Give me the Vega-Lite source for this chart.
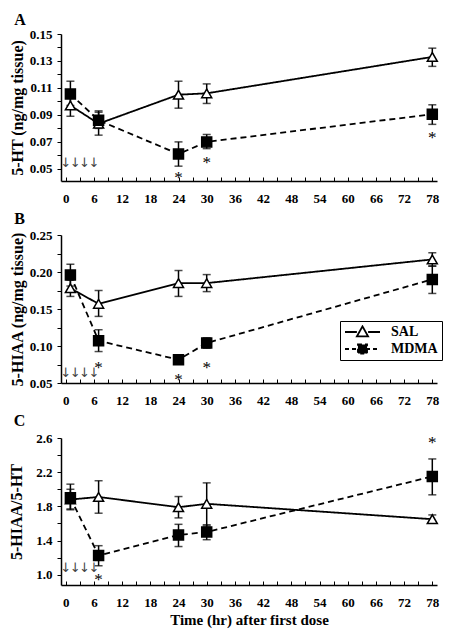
{
  "$schema": "https://vega.github.io/schema/vega-lite/v6.json",
  "padding": {"left": 8, "top": 12, "right": 5, "bottom": 5},
  "config": {
    "font": "Liberation Serif",
    "view": {"stroke": null},
    "axis": {
      "grid": false,
      "domainColor": "black",
      "domainWidth": 1.5,
      "tickColor": "black",
      "tickWidth": 1,
      "tickSize": 4,
      "tickCount": 200,
      "labelOverlap": false,
      "labelFont": "Liberation Serif",
      "labelFontWeight": "bold",
      "labelFontSize": 13,
      "labelColor": "black",
      "titleFont": "Liberation Serif",
      "titleFontWeight": "bold",
      "titleFontSize": 16,
      "titleColor": "black"
    },
    "title": {"font": "Liberation Serif", "fontWeight": "bold", "fontSize": 16, "color": "black", "anchor": "start", "frame": "bounds"}
  },
  "datasets": {
    "pts": [
      {"panel": "A", "group": "SAL", "hr": 1, "mean": 0.097, "lo": 0.089, "hi": 0.105},
      {"panel": "A", "group": "SAL", "hr": 7, "mean": 0.0835, "lo": 0.075, "hi": 0.093},
      {"panel": "A", "group": "SAL", "hr": 24, "mean": 0.105, "lo": 0.095, "hi": 0.115},
      {"panel": "A", "group": "SAL", "hr": 30, "mean": 0.106, "lo": 0.0985, "hi": 0.113},
      {"panel": "A", "group": "SAL", "hr": 78, "mean": 0.133, "lo": 0.126, "hi": 0.1395},
      {"panel": "A", "group": "MDMA", "hr": 1, "mean": 0.1055, "lo": 0.097, "hi": 0.115},
      {"panel": "A", "group": "MDMA", "hr": 7, "mean": 0.086, "lo": 0.08, "hi": 0.092},
      {"panel": "A", "group": "MDMA", "hr": 24, "mean": 0.061, "lo": 0.052, "hi": 0.07},
      {"panel": "A", "group": "MDMA", "hr": 30, "mean": 0.07, "lo": 0.065, "hi": 0.0755},
      {"panel": "A", "group": "MDMA", "hr": 78, "mean": 0.0905, "lo": 0.083, "hi": 0.0975},
      {"panel": "B", "group": "SAL", "hr": 1, "mean": 0.178, "lo": 0.167, "hi": 0.189},
      {"panel": "B", "group": "SAL", "hr": 7, "mean": 0.157, "lo": 0.14, "hi": 0.175},
      {"panel": "B", "group": "SAL", "hr": 24, "mean": 0.185, "lo": 0.167, "hi": 0.202},
      {"panel": "B", "group": "SAL", "hr": 30, "mean": 0.185, "lo": 0.1735, "hi": 0.1965},
      {"panel": "B", "group": "SAL", "hr": 78, "mean": 0.217, "lo": 0.208, "hi": 0.226},
      {"panel": "B", "group": "MDMA", "hr": 1, "mean": 0.196, "lo": 0.181, "hi": 0.2105},
      {"panel": "B", "group": "MDMA", "hr": 7, "mean": 0.107, "lo": 0.0925, "hi": 0.122},
      {"panel": "B", "group": "MDMA", "hr": 24, "mean": 0.0815, "lo": 0.076, "hi": 0.087},
      {"panel": "B", "group": "MDMA", "hr": 30, "mean": 0.104, "lo": 0.097, "hi": 0.111},
      {"panel": "B", "group": "MDMA", "hr": 78, "mean": 0.19, "lo": 0.171, "hi": 0.208},
      {"panel": "C", "group": "SAL", "hr": 1, "mean": 1.88, "lo": 1.76, "hi": 2.0},
      {"panel": "C", "group": "SAL", "hr": 7, "mean": 1.91, "lo": 1.72, "hi": 2.1},
      {"panel": "C", "group": "SAL", "hr": 24, "mean": 1.79, "lo": 1.665, "hi": 1.915},
      {"panel": "C", "group": "SAL", "hr": 30, "mean": 1.83, "lo": 1.57, "hi": 2.075},
      {"panel": "C", "group": "SAL", "hr": 78, "mean": 1.65, "lo": 1.605, "hi": 1.7},
      {"panel": "C", "group": "MDMA", "hr": 1, "mean": 1.9, "lo": 1.77, "hi": 2.06},
      {"panel": "C", "group": "MDMA", "hr": 7, "mean": 1.225, "lo": 1.105, "hi": 1.34},
      {"panel": "C", "group": "MDMA", "hr": 24, "mean": 1.465, "lo": 1.33, "hi": 1.59},
      {"panel": "C", "group": "MDMA", "hr": 30, "mean": 1.5, "lo": 1.41, "hi": 1.585},
      {"panel": "C", "group": "MDMA", "hr": 78, "mean": 2.15, "lo": 1.935, "hi": 2.355}
    ],
    "stars": [
      {"panel": "A", "hr": 24, "y": 0.0465},
      {"panel": "A", "hr": 30, "y": 0.0575},
      {"panel": "A", "hr": 78, "y": 0.0757},
      {"panel": "B", "hr": 7, "y": 0.0761},
      {"panel": "B", "hr": 24, "y": 0.0592},
      {"panel": "B", "hr": 30, "y": 0.0761},
      {"panel": "C", "hr": 7, "y": 0.98},
      {"panel": "C", "hr": 78, "y": 2.588}
    ],
    "arrows": [
      {"panel": "A", "hr": 0, "y": 0.0545},
      {"panel": "A", "hr": 2, "y": 0.0545},
      {"panel": "A", "hr": 4, "y": 0.0545},
      {"panel": "A", "hr": 6, "y": 0.0545},
      {"panel": "B", "hr": 0, "y": 0.0635},
      {"panel": "B", "hr": 2, "y": 0.0635},
      {"panel": "B", "hr": 4, "y": 0.0635},
      {"panel": "B", "hr": 6, "y": 0.0635},
      {"panel": "C", "hr": 0, "y": 1.078},
      {"panel": "C", "hr": 2, "y": 1.078},
      {"panel": "C", "hr": 4, "y": 1.078},
      {"panel": "C", "hr": 6, "y": 1.078}
    ],
    "legendrows": [
      {"group": "SAL", "hr": 40, "mean": 0.15},
      {"group": "MDMA", "hr": 40, "mean": 0.15}
    ]
  },
  "spacing": 6,
  "resolve": {"scale": {"y": "independent"}, "legend": {"shape": "independent", "fill": "independent", "strokeDash": "independent", "stroke": "independent"}},
  "vconcat": [
    {
      "width": 376, "height": 147,
      "title": {"text": "A", "dx": 5, "offset": 0},
      "layer": [
        {
          "data": {"name": "pts"},
          "transform": [{"filter": "datum.panel == 'A'"}],
          "mark": {"type": "line", "color": "black", "strokeWidth": 1.8},
          "encoding": {
            "x": {"field": "hr", "type": "quantitative", "scale": {"domain": [-1, 79], "nice": false, "zero": false},
                  "axis": {"values": [0,3,6,9,12,15,18,21,24,27,30,33,36,39,42,45,48,51,54,57,60,63,66,69,72,75,78], "tickCount": 200, "labelExpr": "datum.value % 6 == 0 ? format(datum.value, 'd') : ''", "labelOverlap": false, "labelFlush": false, "title": null, "tickSize": -4, "labelPadding": 15}},
            "y": {"field": "mean", "type": "quantitative", "title": "5-HT (ng/mg tissue)", "scale": {"domain": [0.041, 0.15], "nice": false, "zero": false},
                  "axis": {"values": [0.05,0.06,0.07,0.08,0.09,0.1,0.11,0.12,0.13,0.14,0.15], "tickCount": 200, "labelExpr": "round(datum.value*100) % 2 == 1 ? format(datum.value, '.2f') : ''", "labelOverlap": false, "labelFlush": false, "labelPadding": 5, "titlePadding": 4}},
            "detail": {"field": "group"},
            "strokeDash": {"field": "group", "type": "nominal", "scale": {"domain": ["SAL", "MDMA"], "range": [[1, 0], [6, 4]]}, "legend": null}
          }
        },
        {
          "data": {"name": "pts"},
          "transform": [{"filter": "datum.panel == 'A'"}],
          "mark": {"type": "errorbar", "color": "black", "thickness": 1.5, "ticks": {"size": 8, "thickness": 1.5, "color": "black"}},
          "encoding": {
            "x": {"field": "hr", "type": "quantitative"},
            "y": {"field": "lo", "type": "quantitative", "title": "5-HT (ng/mg tissue)"},
            "y2": {"field": "hi"}
          }
        },
        {
          "data": {"name": "pts"},
          "transform": [{"filter": "datum.panel == 'A'"}],
          "mark": {"type": "point", "filled": true, "stroke": "black", "strokeWidth": 1.5, "opacity": 1, "size": 100},
          "encoding": {
            "x": {"field": "hr", "type": "quantitative"},
            "y": {"field": "mean", "type": "quantitative", "title": "5-HT (ng/mg tissue)"},
            "shape": {"field": "group", "type": "nominal", "scale": {"domain": ["SAL", "MDMA"], "range": ["triangle-up", "square"]}, "legend": null},
            "fill": {"field": "group", "type": "nominal", "scale": {"domain": ["SAL", "MDMA"], "range": ["white", "black"]}, "legend": null}
          }
        },
        {
          "data": {"name": "stars"},
          "transform": [{"filter": "datum.panel == 'A'"}],
          "mark": {"type": "text", "text": "*", "fontSize": 17, "color": "black", "baseline": "middle", "dy": 4},
          "encoding": {"x": {"field": "hr", "type": "quantitative"}, "y": {"field": "y", "type": "quantitative", "title": "5-HT (ng/mg tissue)"}}
        },
        {
          "data": {"name": "arrows"},
          "transform": [{"filter": "datum.panel == 'A'"}],
          "mark": {"type": "text", "text": "↓", "font": "DejaVu Sans", "fontSize": 13, "color": "#444444", "baseline": "middle"},
          "encoding": {"x": {"field": "hr", "type": "quantitative"}, "y": {"field": "y", "type": "quantitative", "title": "5-HT (ng/mg tissue)"}}
        }
      ]
    },
    {
      "width": 376, "height": 148,
      "title": {"text": "B", "dx": 5, "offset": 2},
      "resolve": {"scale": {"shape": "independent", "fill": "independent", "strokeDash": "independent", "stroke": "independent"}},
      "layer": [
        {
          "data": {"name": "pts"},
          "transform": [{"filter": "datum.panel == 'B'"}],
          "mark": {"type": "line", "color": "black", "strokeWidth": 1.8},
          "encoding": {
            "x": {"field": "hr", "type": "quantitative", "scale": {"domain": [-1, 79], "nice": false, "zero": false},
                  "axis": {"values": [0,3,6,9,12,15,18,21,24,27,30,33,36,39,42,45,48,51,54,57,60,63,66,69,72,75,78], "tickCount": 200, "labelExpr": "datum.value % 6 == 0 ? format(datum.value, 'd') : ''", "labelOverlap": false, "labelFlush": false, "title": null, "tickSize": -4, "labelPadding": 15}},
            "y": {"field": "mean", "type": "quantitative", "title": "5-HIAA (ng/mg tissue)", "scale": {"domain": [0.05, 0.25], "nice": false, "zero": false},
                  "axis": {"values": [0.05,0.075,0.1,0.125,0.15,0.175,0.2,0.225,0.25], "tickCount": 200, "labelExpr": "round(datum.value*1000) % 50 == 0 ? format(datum.value, '.2f') : ''", "labelOverlap": false, "labelFlush": false, "labelPadding": 5, "titlePadding": 4}},
            "detail": {"field": "group"},
            "strokeDash": {"field": "group", "type": "nominal", "scale": {"domain": ["SAL", "MDMA"], "range": [[1, 0], [6, 4]]}, "legend": null}
          }
        },
        {
          "data": {"name": "pts"},
          "transform": [{"filter": "datum.panel == 'B'"}],
          "mark": {"type": "errorbar", "color": "black", "thickness": 1.5, "ticks": {"size": 8, "thickness": 1.5, "color": "black"}},
          "encoding": {
            "x": {"field": "hr", "type": "quantitative"},
            "y": {"field": "lo", "type": "quantitative", "title": "5-HIAA (ng/mg tissue)"},
            "y2": {"field": "hi"}
          }
        },
        {
          "data": {"name": "pts"},
          "transform": [{"filter": "datum.panel == 'B'"}],
          "mark": {"type": "point", "filled": true, "stroke": "black", "strokeWidth": 1.5, "opacity": 1, "size": 100},
          "encoding": {
            "x": {"field": "hr", "type": "quantitative"},
            "y": {"field": "mean", "type": "quantitative", "title": "5-HIAA (ng/mg tissue)"},
            "shape": {"field": "group", "type": "nominal", "scale": {"domain": ["SAL", "MDMA"], "range": ["triangle-up", "square"]}, "legend": null},
            "fill": {"field": "group", "type": "nominal", "scale": {"domain": ["SAL", "MDMA"], "range": ["white", "black"]}, "legend": null}
          }
        },
        {
          "data": {"name": "legendrows"},
          "mark": {"type": "point", "filled": true, "strokeWidth": 1.8, "opacity": 0},
          "encoding": {
            "x": {"field": "hr", "type": "quantitative"},
            "y": {"field": "mean", "type": "quantitative", "title": "5-HIAA (ng/mg tissue)"},
            "shape": {"field": "group", "type": "nominal", "scale": {"domain": ["SAL", "MDMA"], "range": ["M-1,0H-0.32M0.32,0H1M-0.32,0.25L0,-0.32L0.32,0.25Z", "M-1,0H1M-0.26,-0.26H0.26V0.26H-0.26Z"]},
                      "legend": {"title": null, "orient": "none", "legendX": 279, "legendY": 86, "strokeColor": "black", "padding": 4, "labelFontSize": 14, "labelFontWeight": "bold", "labelFont": "Liberation Serif", "labelColor": "black", "symbolSize": 1225, "symbolOpacity": 1, "symbolStrokeWidth": 1.8, "clipHeight": 14, "labelOffset": 10, "rowPadding": 3}},
            "fill": {"field": "group", "type": "nominal", "scale": {"domain": ["SAL", "MDMA"], "range": ["white", "black"]},
                      "legend": {"title": null, "orient": "none", "legendX": 279, "legendY": 86, "strokeColor": "black", "padding": 4, "labelFontSize": 14, "labelFontWeight": "bold", "labelFont": "Liberation Serif", "labelColor": "black", "symbolSize": 1225, "symbolOpacity": 1, "symbolStrokeWidth": 1.8, "clipHeight": 14, "labelOffset": 10, "rowPadding": 3}},
            "stroke": {"field": "group", "type": "nominal", "scale": {"domain": ["SAL", "MDMA"], "range": ["black", "black"]},
                      "legend": {"title": null, "orient": "none", "legendX": 279, "legendY": 86, "strokeColor": "black", "padding": 4, "labelFontSize": 14, "labelFontWeight": "bold", "labelFont": "Liberation Serif", "labelColor": "black", "symbolSize": 1225, "symbolOpacity": 1, "symbolStrokeWidth": 1.8, "clipHeight": 14, "labelOffset": 10, "rowPadding": 3}},
            "strokeDash": {"field": "group", "type": "nominal", "scale": {"domain": ["SAL", "MDMA"], "range": [[1, 0], [4, 3]]},
                      "legend": {"title": null, "orient": "none", "legendX": 279, "legendY": 86, "strokeColor": "black", "padding": 4, "labelFontSize": 14, "labelFontWeight": "bold", "labelFont": "Liberation Serif", "labelColor": "black", "symbolSize": 1225, "symbolOpacity": 1, "symbolStrokeWidth": 1.8, "clipHeight": 14, "labelOffset": 10, "rowPadding": 3}}
          }
        },
        {
          "data": {"name": "stars"},
          "transform": [{"filter": "datum.panel == 'B'"}],
          "mark": {"type": "text", "text": "*", "fontSize": 17, "color": "black", "baseline": "middle", "dy": 4},
          "encoding": {"x": {"field": "hr", "type": "quantitative"}, "y": {"field": "y", "type": "quantitative", "title": "5-HIAA (ng/mg tissue)"}}
        },
        {
          "data": {"name": "arrows"},
          "transform": [{"filter": "datum.panel == 'B'"}],
          "mark": {"type": "text", "text": "↓", "font": "DejaVu Sans", "fontSize": 13, "color": "#444444", "baseline": "middle"},
          "encoding": {"x": {"field": "hr", "type": "quantitative"}, "y": {"field": "y", "type": "quantitative", "title": "5-HIAA (ng/mg tissue)"}}
        }
      ]
    },
    {
      "width": 376, "height": 147,
      "title": {"text": "C", "dx": 5, "offset": 3},
      "layer": [
        {
          "data": {"name": "pts"},
          "transform": [{"filter": "datum.panel == 'C'"}],
          "mark": {"type": "line", "color": "black", "strokeWidth": 1.8},
          "encoding": {
            "x": {"field": "hr", "type": "quantitative", "title": "Time (hr) after first dose", "scale": {"domain": [-1, 79], "nice": false, "zero": false},
                  "axis": {"values": [0,3,6,9,12,15,18,21,24,27,30,33,36,39,42,45,48,51,54,57,60,63,66,69,72,75,78], "tickCount": 200, "labelExpr": "datum.value % 6 == 0 ? format(datum.value, 'd') : ''", "labelOverlap": false, "labelFlush": false, "titleFontSize": 15, "tickSize": -4, "labelPadding": 15, "titlePadding": 3}},
            "y": {"field": "mean", "type": "quantitative", "title": "5-HIAA/5-HT", "scale": {"domain": [0.88, 2.6], "nice": false, "zero": false},
                  "axis": {"values": [1.0,1.2,1.4,1.6,1.8,2.0,2.2,2.4,2.6], "tickCount": 200, "labelExpr": "round(datum.value*10) % 4 == 2 ? format(datum.value, '.1f') : ''", "labelOverlap": false, "labelFlush": false, "labelPadding": 5, "titlePadding": 11}},
            "detail": {"field": "group"},
            "strokeDash": {"field": "group", "type": "nominal", "scale": {"domain": ["SAL", "MDMA"], "range": [[1, 0], [6, 4]]}, "legend": null}
          }
        },
        {
          "data": {"name": "pts"},
          "transform": [{"filter": "datum.panel == 'C'"}],
          "mark": {"type": "errorbar", "color": "black", "thickness": 1.5, "ticks": {"size": 8, "thickness": 1.5, "color": "black"}},
          "encoding": {
            "x": {"field": "hr", "type": "quantitative", "title": "Time (hr) after first dose"},
            "y": {"field": "lo", "type": "quantitative", "title": "5-HIAA/5-HT"},
            "y2": {"field": "hi"}
          }
        },
        {
          "data": {"name": "pts"},
          "transform": [{"filter": "datum.panel == 'C'"}],
          "mark": {"type": "point", "filled": true, "stroke": "black", "strokeWidth": 1.5, "opacity": 1, "size": 100},
          "encoding": {
            "x": {"field": "hr", "type": "quantitative", "title": "Time (hr) after first dose"},
            "y": {"field": "mean", "type": "quantitative", "title": "5-HIAA/5-HT"},
            "shape": {"field": "group", "type": "nominal", "scale": {"domain": ["SAL", "MDMA"], "range": ["triangle-up", "square"]}, "legend": null},
            "fill": {"field": "group", "type": "nominal", "scale": {"domain": ["SAL", "MDMA"], "range": ["white", "black"]}, "legend": null}
          }
        },
        {
          "data": {"name": "stars"},
          "transform": [{"filter": "datum.panel == 'C'"}],
          "mark": {"type": "text", "text": "*", "fontSize": 17, "color": "black", "baseline": "middle", "dy": 4},
          "encoding": {"x": {"field": "hr", "type": "quantitative", "title": "Time (hr) after first dose"}, "y": {"field": "y", "type": "quantitative", "title": "5-HIAA/5-HT"}}
        },
        {
          "data": {"name": "arrows"},
          "transform": [{"filter": "datum.panel == 'C'"}],
          "mark": {"type": "text", "text": "↓", "font": "DejaVu Sans", "fontSize": 13, "color": "#444444", "baseline": "middle"},
          "encoding": {"x": {"field": "hr", "type": "quantitative", "title": "Time (hr) after first dose"}, "y": {"field": "y", "type": "quantitative", "title": "5-HIAA/5-HT"}}
        }
      ]
    }
  ]
}
